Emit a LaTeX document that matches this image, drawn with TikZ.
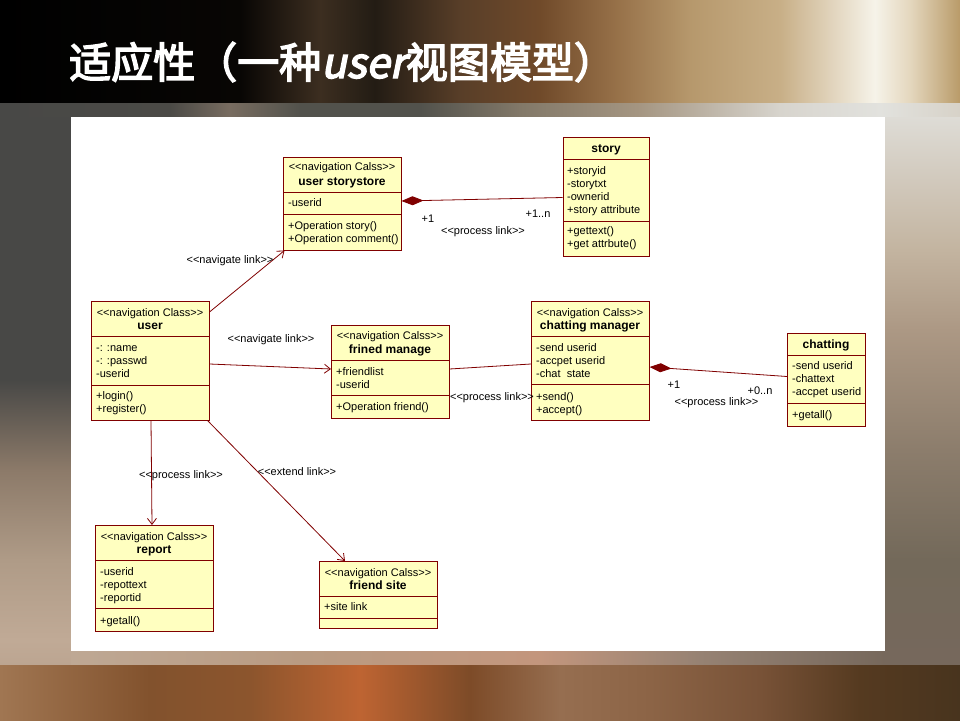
\documentclass[tikz,border=0pt]{standalone}
\usepackage{fontspec}
\setmainfont{Liberation Sans}[Ligatures=TeXOff]
\newfontfamily\titlefont{Noto Sans CJK SC}[FakeBold=3.5]
\newfontfamily\titlefontit{Noto Sans CJK SC}[FakeSlant=0.2,FakeBold=3.5]
\usetikzlibrary{arrows.meta,fit}

\definecolor{umlred}{RGB}{128,0,0}
\definecolor{umlfill}{RGB}{255,255,192}
% top band
\definecolor{ta}{RGB}{0,0,0}
\definecolor{tb}{RGB}{8,6,4}
\definecolor{tc}{RGB}{60,46,32}
\definecolor{td}{RGB}{35,28,20}
\definecolor{te}{RGB}{88,62,40}
\definecolor{tf}{RGB}{112,74,42}
\definecolor{tg}{RGB}{150,112,72}
\definecolor{th}{RGB}{182,152,108}
\definecolor{ti}{RGB}{200,175,135}
\definecolor{tj}{RGB}{246,243,233}
\definecolor{tk}{RGB}{228,215,190}
\definecolor{tl}{RGB}{185,155,105}
% middle top strip
\definecolor{ma}{RGB}{72,72,70}
\definecolor{mb}{RGB}{75,74,70}
\definecolor{mc}{RGB}{120,108,96}
\definecolor{md}{RGB}{82,82,76}
\definecolor{me}{RGB}{130,120,104}
\definecolor{mf}{RGB}{165,150,130}
\definecolor{mg}{RGB}{215,212,205}
\definecolor{mh}{RGB}{226,226,222}
\definecolor{mi}{RGB}{215,210,200}
% left strip
\definecolor{la}{RGB}{140,122,105}
\definecolor{lb}{RGB}{175,155,135}
\definecolor{lc}{RGB}{192,170,150}
\definecolor{ld}{RGB}{188,165,145}
% right strip
\definecolor{ra}{RGB}{222,220,214}
\definecolor{rb}{RGB}{195,180,160}
\definecolor{rc}{RGB}{172,152,132}
\definecolor{rd}{RGB}{140,125,108}
\definecolor{re}{RGB}{115,105,90}
\definecolor{rf}{RGB}{118,104,92}
% bottom strip
\definecolor{sa}{RGB}{190,168,148}
\definecolor{sb}{RGB}{185,155,130}
\definecolor{sc}{RGB}{195,150,125}
\definecolor{sd}{RGB}{150,130,115}
% bottom band
\definecolor{ba}{RGB}{160,118,82}
\definecolor{bb}{RGB}{130,82,45}
\definecolor{bc}{RGB}{140,85,45}
\definecolor{bd}{RGB}{190,100,50}
\definecolor{be}{RGB}{125,75,40}
\definecolor{bf}{RGB}{150,110,80}
\definecolor{bg}{RGB}{140,100,70}
\definecolor{bh}{RGB}{120,82,55}
\definecolor{bi}{RGB}{85,58,32}
\definecolor{bj}{RGB}{72,52,30}

\newcommand\hseg[6]{\shade[left color=#5,right color=#6] (#1,#3) rectangle (#2,#4);}
\newcommand\vseg[6]{\shade[top color=#5,bottom color=#6] (#1,#3) rectangle (#2,#4);}
\newcommand\umltext[4]{%
  \foreach \ltext [count=\i] in {#4} {%
    \node[umltxt, anchor=base west] (#1\i) at (#2, {#3+13*(\i-1)}) {\ltext};}}

\tikzset{
  classbox/.style={draw=umlred, fill=umlfill, line width=1pt, inner sep=0pt},
  sepline/.style={draw=umlred, line width=1pt},
  umltxt/.style={inner sep=0pt, font=\fontsize{11}{13}\selectfont, text=black},
  umlname/.style={inner sep=0pt, font=\fontsize{12}{13}\selectfont\bfseries, text=black, anchor=base},
  link/.style={draw=umlred, line width=0.8pt},
  navarrow/.style={link, -{Straight Barb[length=6pt,width=9pt]}},
  comp/.style={link, {Diamond[length=22pt,width=9pt]}-},
  lbl/.style={inner sep=0pt, font=\fontsize{11}{13}\selectfont, text=black, anchor=base},
}

\begin{document}
\begin{tikzpicture}[x=1pt,y=-1pt]
\useasboundingbox (0,0) rectangle (960,720);
% ---------- background ----------
\hseg{0}{240}{0}{103}{ta}{tb}
\hseg{240}{320}{0}{103}{tb}{tc}
\hseg{320}{375}{0}{103}{tc}{td}
\hseg{375}{460}{0}{103}{td}{te}
\hseg{460}{540}{0}{103}{te}{tf}
\hseg{540}{615}{0}{103}{tf}{tg}
\hseg{615}{690}{0}{103}{tg}{th}
\hseg{690}{780}{0}{103}{th}{ti}
\hseg{780}{875}{0}{103}{ti}{tj}
\hseg{875}{910}{0}{103}{tj}{tk}
\hseg{910}{960}{0}{103}{tk}{tl}
% middle top strip
\hseg{0}{170}{103}{117}{ma}{mb}
\hseg{170}{230}{103}{117}{mb}{mc}
\hseg{230}{300}{103}{117}{mc}{md}
\hseg{300}{420}{103}{117}{md}{md}
\hseg{420}{520}{103}{117}{md}{me}
\hseg{520}{640}{103}{117}{me}{mf}
\hseg{640}{780}{103}{117}{mf}{mg}
\hseg{780}{880}{103}{117}{mg}{mh}
\hseg{880}{960}{103}{117}{mh}{mi}
% left strip
\vseg{0}{71}{117}{380}{ma}{ma}
\vseg{0}{71}{380}{470}{ma}{la}
\vseg{0}{71}{470}{560}{la}{lb}
\vseg{0}{71}{560}{640}{lb}{lc}
\vseg{0}{71}{640}{665}{lc}{ld}
% right strip
\vseg{885}{960}{117}{250}{ra}{rb}
\vseg{885}{960}{250}{330}{rb}{rc}
\vseg{885}{960}{330}{450}{rc}{rd}
\vseg{885}{960}{450}{560}{rd}{re}
\vseg{885}{960}{560}{665}{re}{rf}
% bottom strip
\hseg{71}{300}{651}{665}{sa}{sb}
\hseg{300}{540}{651}{665}{sb}{sc}
\hseg{540}{700}{651}{665}{sc}{sd}
\hseg{700}{885}{651}{665}{sd}{rf}
% bottom band
\hseg{0}{150}{665}{720}{ba}{bb}
\hseg{150}{250}{665}{720}{bb}{bc}
\hseg{250}{360}{665}{720}{bc}{bd}
\hseg{360}{470}{665}{720}{bd}{be}
\hseg{470}{560}{665}{720}{be}{bf}
\hseg{560}{650}{665}{720}{bf}{bg}
\hseg{650}{760}{665}{720}{bg}{bh}
\hseg{760}{860}{665}{720}{bh}{bi}
\hseg{860}{960}{665}{720}{bi}{bj}
% white panel
\fill[white] (71,117) rectangle (885,651);

% ---------- title ----------
\node[anchor=base west, inner sep=0pt, text=white,
      font=\titlefont\fontsize{42}{42}\selectfont] (title) at (69,78)
      {适应性（一种{\titlefontit user}视图模型）};

% ---------- classes ----------
% user storystore
\node[classbox, fit={(283,157.5)(401,250)}] (ss) {};
\draw[sepline] (283,192) -- (401,192);
\draw[sepline] (283,214) -- (401,214);
\node[lbl] (ss-s) at (342,170.5) {<<navigation Calss>>};
\node[umlname] (ss-n) at (342,185.5) {user storystore};
\umltext{ss-a}{288}{206}{-userid}
\umltext{ss-o}{288}{229.5}{+Operation story(),+Operation comment()}

% story
\node[classbox, fit={(563,137)(649.5,256)}] (story) {};
\draw[sepline] (563,159) -- (649.5,159);
\draw[sepline] (563,221) -- (649.5,221);
\node[umlname] (story-n) at (606,152.5) {story};
\umltext{story-a}{567}{174}{+storyid,-storytxt,-ownerid,+story attribute}
\umltext{story-o}{567}{234}{+gettext(),+get attrbute()}

% user
\node[classbox, fit={(91.5,301.5)(209,420)}] (user) {};
\draw[sepline] (91.5,336) -- (209,336);
\draw[sepline] (91.5,385) -- (209,385);
\node[lbl] (user-s) at (150,316.5) {<<navigation Class>>};
\node[umlname] (user-n) at (150,329) {user};
\umltext{user-a}{96}{351.3}{-: :name,-: :passwd,-userid}
\umltext{user-o}{96}{399.5}{+login(),+register()}

% friend manage
\node[classbox, fit={(331.5,325.5)(449,418)}] (fm) {};
\draw[sepline] (331.5,360.5) -- (449,360.5);
\draw[sepline] (331.5,395.3) -- (449,395.3);
\node[lbl] (fm-s) at (390,339.7) {<<navigation Calss>>};
\node[umlname] (fm-n) at (390,353.3) {frined manage};
\umltext{fm-a}{336}{375}{+friendlist,-userid}
\umltext{fm-o}{336}{410.7}{+Operation friend()}

% chatting manager
\node[classbox, fit={(531.5,301.5)(649,420)}] (cm) {};
\draw[sepline] (531.5,336.5) -- (649,336.5);
\draw[sepline] (531.5,384.3) -- (649,384.3);
\node[lbl] (cm-s) at (590,316.7) {<<navigation Calss>>};
\node[umlname] (cm-n) at (590,329) {chatting manager};
\umltext{cm-a}{536}{351.3}{-send userid,-accpet userid,-chat\ \ state}
\umltext{cm-o}{536}{400}{+send(),+accept()}

% chatting
\node[classbox, fit={(787.5,333)(865,426)}] (chat) {};
\draw[sepline] (787.5,355) -- (865,355);
\draw[sepline] (787.5,403) -- (865,403);
\node[umlname] (chat-n) at (826,348.3) {chatting};
\umltext{chat-a}{792}{369.7}{-send userid,-chattext,-accpet userid}
\umltext{chat-o}{792}{418.7}{+getall()}

% report
\node[classbox, fit={(95.5,525.5)(213,631)}] (rep) {};
\draw[sepline] (95.5,560.5) -- (213,560.5);
\draw[sepline] (95.5,608) -- (213,608);
\node[lbl] (rep-s) at (154,540.7) {<<navigation Calss>>};
\node[umlname] (rep-n) at (154,553.3) {report};
\umltext{rep-a}{100}{575}{-userid,-repottext,-reportid}
\umltext{rep-o}{100}{624}{+getall()}

% friend site
\node[classbox, fit={(319.5,561.5)(437,628.3)}] (fs) {};
\draw[sepline] (319.5,596.7) -- (437,596.7);
\draw[sepline] (319.5,618.3) -- (437,618.3);
\node[lbl] (fs-s) at (378,576.3) {<<navigation Calss>>};
\node[umlname] (fs-n) at (378,589.3) {friend site};
\umltext{fs-a}{324}{610.7}{+site link}

% ---------- connectors ----------
\draw[navarrow] ([yshift=-11pt]user.north east) -- ([xshift=2pt]ss.south west);
\draw[navarrow] ([yshift=-63pt]user.north east) -- ([yshift=-44pt]fm.north west);
\draw[navarrow] ([xshift=60pt]user.south west) -- ([xshift=57pt]rep.north west);
\draw[navarrow] ([xshift=-2pt]user.south east) -- ([xshift=26pt]fs.north west);
\draw[comp] ([yshift=-44pt]ss.north east) -- ([yshift=-61pt]story.north west);
\draw[link] ([yshift=-44pt]fm.north east) -- ([yshift=-63pt]cm.north west);
\draw[comp] ([yshift=-66pt]cm.north east) -- ([yshift=-44pt]chat.north west);

% ---------- connector labels ----------
\node[lbl] (l-nav1) at (230,263) {<<navigate link>>};
\node[lbl] (l-nav2) at (271,342) {<<navigate link>>};
\node[lbl] (l-proc1) at (181,478) {<<process link>>};
\node[lbl] (l-ext) at (297,475) {<<extend link>>};
\node[lbl] (l-m1) at (428,222) {+1};
\node[lbl] (l-m2) at (538,217) {+1..n};
\node[lbl] (l-proc2) at (483,234) {<<process link>>};
\node[lbl] (l-proc3) at (492,400.5) {<<process link>>};
\node[lbl] (l-m3) at (674,388) {+1};
\node[lbl] (l-m4) at (760,394.5) {+0..n};
\node[lbl] (l-proc4) at (716.5,405) {<<process link>>};
\end{tikzpicture}
\end{document}
